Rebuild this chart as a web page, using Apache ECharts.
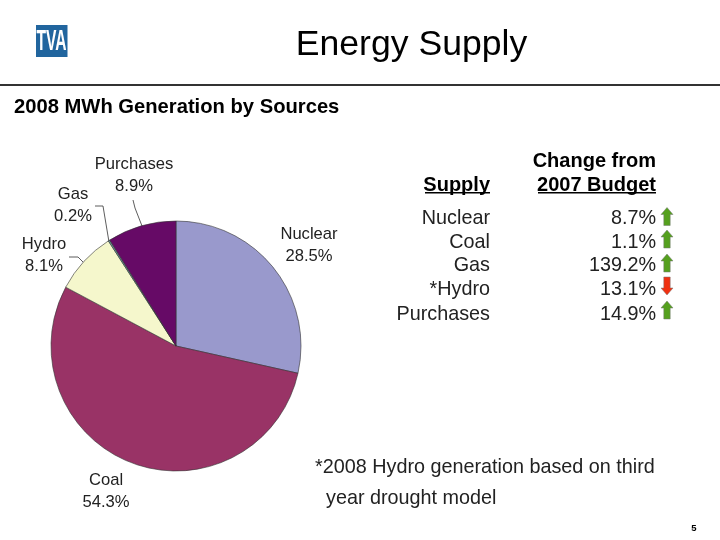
<!DOCTYPE html>
<html><head><meta charset="utf-8">
<style>html,body{margin:0;padding:0;background:#fff}#c{width:720px;height:540px}</style>
<script src="https://cdn.jsdelivr.net/npm/echarts@6/dist/echarts.min.js"></script>
</head><body><div id="c"></div>
<script>
const sources = ['Nuclear','Coal','Hydro','Gas','Purchases'];
const shares = [28.5,54.3,8.1,0.2,8.9];
const sliceColors = ['#9999CC','#993366','#F5F7CC','#6A9A9A','#660A66'];
const supplyNames = ['Nuclear','Coal','Gas','*Hydro','Purchases'];
const changes = ['8.7%','1.1%','139.2%','13.1%','14.9%'];
const directions = ['up','up','up','down','up'];

const F = '"Liberation Sans", Arial, sans-serif';
const labelPos = {Nuclear:[309,245.5],Coal:[106,491.5],Hydro:[44,255.5],Gas:[73,205],Purchases:[134,175]};
const leaders = {
  Hydro:[[69,257],[78,257],[84,263]],
  Gas:[[95,206],[103,206],[109,242]],
  Purchases:[[133,200],[135,208],[142,226]]
};
const chart = echarts.init(document.getElementById('c'),null,{renderer:'canvas'});
const txt = (x,y,t,size,o={}) => ({type:'text',x,y,silent:true,style:Object.assign({text:t,fill:'#000',font:`${o.bold?'bold ':''}${size}px ${F}`,align:o.align||'left',verticalAlign:'middle'},o.style||{})});
const rowYs = [219,243,266,290,315];
const arrowYs = [216.5,239,263,286,310];
const UP = [[0,-9],[6,-2],[3.2,-2],[3.2,9],[-3.2,9],[-3.2,-2],[-6,-2]];
const DOWN = [[0,9],[6,2],[3.2,2],[3.2,-9],[-3.2,-9],[-3.2,2],[-6,2]];
const graphics = [
  {type:'rect',shape:{x:36,y:25,width:31.5,height:32},style:{fill:'#21659E'},silent:true},
  Object.assign(txt(51.5,42,'TVA',30,{bold:true,align:'center',style:{fill:'#fff'}}),{scaleX:0.52}),
  txt(411.5,45,'Energy Supply',35.6,{align:'center'}),
  {type:'rect',shape:{x:0,y:84,width:720,height:2},style:{fill:'#333'},silent:true},
  txt(14,107,'2008 MWh Generation by Sources',20.2,{bold:true}),
  txt(656,161,'Change from',20,{bold:true,align:'right'}),
  txt(490,185,'Supply',20,{bold:true,align:'right'}),
  txt(656,185,'2007 Budget',20,{bold:true,align:'right'}),
  {type:'rect',shape:{x:425,y:192,width:65,height:1.5},style:{fill:'#000'},silent:true},
  {type:'rect',shape:{x:538,y:192,width:118,height:1.5},style:{fill:'#000'},silent:true},
  txt(315,468,'*2008 Hydro generation based on third',19.8,{style:{fill:'#222'}}),
  txt(326,499,'year drought model',19.8,{style:{fill:'#222'}}),
  txt(694,528,'5',9.5,{bold:true,align:'center'})
];
supplyNames.forEach((n,i)=>{
  graphics.push(txt(490,rowYs[i],n,19.8,{align:'right',style:{fill:'#222'}}));
  graphics.push(txt(656,rowYs[i],changes[i],19.8,{align:'right',style:{fill:'#222'}}));
  graphics.push({type:'polygon',x:667,y:arrowYs[i],silent:true,
    shape:{points:directions[i]==='up'?UP:DOWN},
    style:{fill:directions[i]==='up'?'#55A01E':'#F03010',stroke:'#777',lineWidth:0.5}});
});
chart.setOption({
  animation:false,
  graphic:graphics,
  series:[{
    type:'pie',center:[176,346],radius:[0,125],startAngle:90,clockwise:true,minAngle:0,
    avoidLabelOverlap:false,
    itemStyle:{borderColor:'#333',borderWidth:0.6},
    emphasis:{disabled:true},
    data:sources.map((n,i)=>({name:n,value:shares[i],
      itemStyle:{color:sliceColors[i]},
      labelLine:{show:!!leaders[n]}})),
    label:{show:true,position:'outside',formatter:p=>`${p.name}\n${p.value.toFixed(1)}%`,
      fontFamily:'Liberation Sans',fontSize:16.6,lineHeight:22,color:'#222',align:'center'},
    labelLine:{show:true,length:10,length2:8,smooth:false,lineStyle:{color:'#333',width:0.8}},
    labelLayout:p=>{const n=sources[p.dataIndex];const r={x:labelPos[n][0],y:labelPos[n][1],align:'center',verticalAlign:'middle'};
      if(leaders[n]) r.labelLinePoints=leaders[n];return r;}
  }]
});
</script></body></html>
